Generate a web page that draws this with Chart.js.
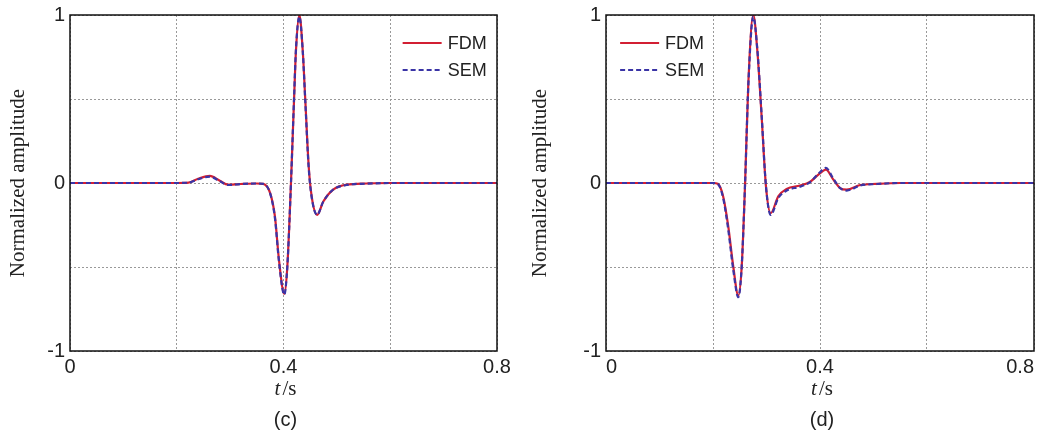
<!DOCTYPE html>
<html>
<head>
<meta charset="utf-8">
<script src="https://cdn.jsdelivr.net/npm/chart.js@4/dist/chart.umd.min.js"></script>
<style>
  body { margin: 0; background: #fff; }
  .panel { position: absolute; top: 0; width: 523px; height: 435px; }
</style>
</head>
<body>
<div class="panel" style="left:0"><canvas id="chartC" width="523" height="435"></canvas></div>
<div class="panel" style="left:523px"><canvas id="chartD" width="523" height="435"></canvas></div>
<script>
// tick labels
const xTickLabels = [0, 0.4, 0.8];
const yTickLabels = [-1, 0, 1];

// panel (c)
const tC   = [0, 0.1, 0.2, 0.222, 0.24, 0.262, 0.28, 0.296, 0.32, 0.35, 0.362, 0.375, 0.384, 0.3916, 0.4015, 0.4071, 0.414, 0.4197, 0.4234, 0.4297, 0.436, 0.4409, 0.4472, 0.4528, 0.463, 0.4746, 0.493, 0.518, 0.556, 0.6, 0.7, 0.8];
const fdmC = [0, 0, 0, 0.002, 0.025, 0.042, 0.015, -0.01, -0.006, -0.003, -0.005, -0.06, -0.2, -0.46, -0.66, -0.5, 0.0, 0.49, 0.79, 1.0, 0.79, 0.49, 0.1, -0.08, -0.19, -0.11, -0.04, -0.01, -0.003, 0, 0, 0];
const semC = [0, 0, 0, 0.002, 0.022, 0.038, 0.012, -0.012, -0.006, -0.003, -0.005, -0.062, -0.21, -0.47, -0.665, -0.5, 0.0, 0.5, 0.8, 0.99, 0.79, 0.48, 0.09, -0.085, -0.19, -0.11, -0.04, -0.012, -0.004, 0, 0, 0];

// panel (d)
const tD   = [0, 0.1, 0.2, 0.209, 0.219, 0.2286, 0.238, 0.2473, 0.2536, 0.26, 0.266, 0.2753, 0.2828, 0.291, 0.299, 0.3078, 0.322, 0.3377, 0.3626, 0.381, 0.397, 0.411, 0.425, 0.4374, 0.45, 0.475, 0.506, 0.55, 0.65, 0.8];
const fdmD = [0, 0, 0, -0.005, -0.08, -0.26, -0.5, -0.67, -0.5, 0, 0.59, 1.0, 0.79, 0.39, -0.02, -0.18, -0.08, -0.035, -0.015, 0.006, 0.05, 0.08, 0.02, -0.03, -0.04, -0.012, -0.005, 0, 0, 0];
const semD = [0, 0, 0, -0.006, -0.09, -0.28, -0.52, -0.68, -0.5, 0, 0.58, 0.99, 0.8, 0.4, -0.02, -0.19, -0.09, -0.045, -0.022, 0.004, 0.055, 0.09, 0.025, -0.03, -0.045, -0.015, -0.006, 0, 0, 0];

const sans = "'Liberation Sans', Arial, sans-serif";
const serif = "'Liberation Serif', 'Times New Roman', serif";
const RED = '#d21f33';
const BLUE = '#3a34a6';

function pts(t, v) {
  return t.map((x, i) => ({ x: x, y: v[i] }));
}

function pick(list, v) {
  const hit = list.find(l => Math.abs(l - v) < 1e-6);
  return hit === undefined ? '' : String(hit);
}

function makeChart(id, t, fdm, sem, panel, yWidth, padRight, titleX, xAlign) {
  // frame, legend, axis titles and panel letter
  const deco = {
    id: 'deco',
    afterDraw(chart) {
      const ctx = chart.ctx;
      const a = chart.chartArea;
      ctx.save();
      ctx.strokeStyle = '#111';
      ctx.lineWidth = 1.5;
      ctx.strokeRect(a.left, a.top, a.right - a.left, a.bottom - a.top);

      // legend
      const lx = a.left + (a.right - a.left) * (panel === 'c' ? 0.779 : 0.033);
      const rows = [[43, RED, []], [70, BLUE, [5, 3]]];
      const names = chart.data.datasets.map(d => d.label);
      rows.forEach((r, i) => {
        ctx.beginPath();
        ctx.setLineDash(r[2]);
        ctx.strokeStyle = r[1];
        ctx.lineWidth = 2;
        ctx.moveTo(lx, r[0]);
        ctx.lineTo(lx + 39, r[0]);
        ctx.stroke();
        ctx.setLineDash([]);
        ctx.fillStyle = '#222';
        ctx.font = '18px ' + sans;
        ctx.textBaseline = 'middle';
        ctx.textAlign = 'left';
        ctx.fillText(names[i], lx + 45, r[0] + 1);
      });

      // y title
      ctx.save();
      ctx.translate(titleX, (a.top + a.bottom) / 2);
      ctx.rotate(-Math.PI / 2);
      ctx.font = '21px ' + serif;
      ctx.textAlign = 'center';
      ctx.textBaseline = 'middle';
      ctx.fillStyle = '#222';
      ctx.fillText('Normalized amplitude', 0, 0);
      ctx.restore();

      // x title: t/s
      const cx = (a.left + a.right) / 2 + 2;
      ctx.textBaseline = 'alphabetic';
      ctx.textAlign = 'left';
      ctx.font = 'italic 21px ' + serif;
      const wT = ctx.measureText('t').width;
      ctx.font = '21px ' + serif;
      const wS = ctx.measureText('/s').width;
      const x0 = cx - (wT + 2 + wS) / 2;
      ctx.font = 'italic 21px ' + serif;
      ctx.fillText('t', x0, 395);
      ctx.font = '21px ' + serif;
      ctx.fillText('/s', x0 + wT + 2, 395);

      // panel letter
      ctx.font = '20px ' + sans;
      ctx.textAlign = 'center';
      ctx.textBaseline = 'middle';
      ctx.fillText('(' + panel + ')', cx, 420);
      ctx.restore();
    }
  };

  return new Chart(document.getElementById(id), {
    type: 'line',
    data: {
      datasets: [
        { label: 'FDM', data: pts(t, fdm), borderColor: RED, borderWidth: 2.2, order: 1 },
        { label: 'SEM', data: pts(t, sem), borderColor: BLUE, borderWidth: 2.2, borderDash: [5, 3], order: 0 }
      ]
    },
    options: {
      responsive: false,
      animation: false,
      events: [],
      layout: { padding: { left: 0, right: padRight, top: 15, bottom: 0 } },
      elements: {
        point: { radius: 0 },
        line: { cubicInterpolationMode: 'monotone', fill: false }
      },
      plugins: { legend: { display: false }, tooltip: { enabled: false } },
      scales: {
        x: {
          type: 'linear', min: 0, max: 0.8,
          afterFit(s) { s.height = 84; s.paddingLeft = 0; s.paddingRight = 0; },
          border: { display: false, dash: [2, 2] },
          grid: { color: '#999', lineWidth: 1, drawTicks: false },
          ticks: {
            stepSize: 0.2, autoSkip: false, maxRotation: 0, padding: 4, align: xAlign,
            color: '#222', font: { family: sans, size: 20 },
            callback: v => pick(xTickLabels, v)
          }
        },
        y: {
          min: -1, max: 1,
          afterFit(s) { s.width = yWidth; s.paddingTop = 0; s.paddingBottom = 0; },
          border: { display: false, dash: [2, 2] },
          grid: { color: '#999', lineWidth: 1, drawTicks: false },
          ticks: {
            stepSize: 0.5, autoSkip: false, padding: 5,
            color: '#222', font: { family: sans, size: 20 },
            callback: v => pick(yTickLabels, v)
          }
        }
      }
    },
    plugins: [deco]
  });
}

makeChart('chartC', tC, fdmC, semC, 'c', 70, 26, 18, 'center');
makeChart('chartD', tD, fdmD, semD, 'd', 83, 12, 17, 'inner');
</script>
</body>
</html>
